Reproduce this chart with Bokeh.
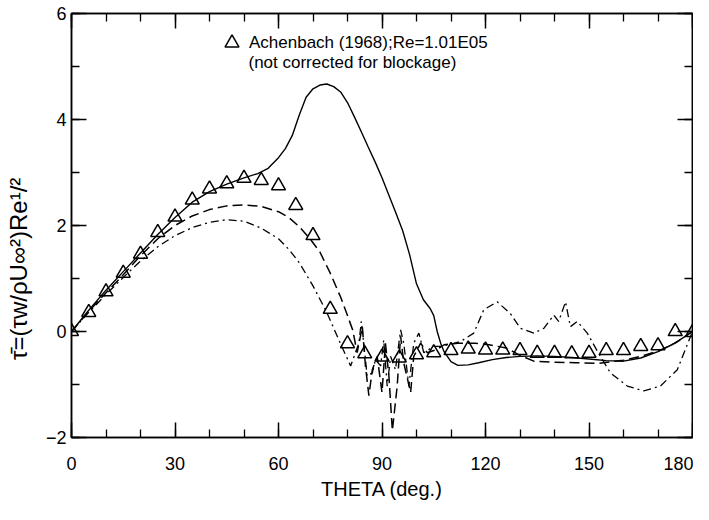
from bokeh.plotting import figure
from bokeh.models import (Range1d, LinearAxis, SingleIntervalTicker, Legend, LegendItem, Label,
                          CustomJSTickFormatter)
from bokeh.embed import file_html
from bokeh.resources import INLINE

# Achenbach (1968) experimental data
theta_exp = [0, 5, 10, 15, 20, 25, 30, 35, 40, 45, 50, 55, 60, 65, 70, 75, 80, 85, 90, 95,
             100, 105, 110, 115, 120, 125, 130, 135, 140, 145, 150, 155, 160, 165, 170, 175, 180]
tau_exp = [0.0, 0.36, 0.75, 1.10, 1.46, 1.87, 2.16, 2.48, 2.69, 2.79, 2.89, 2.85, 2.75, 2.38, 1.81,
           0.42, -0.23, -0.42, -0.48, -0.50, -0.44, -0.40, -0.36, -0.33, -0.35, -0.35, -0.36, -0.41,
           -0.41, -0.42, -0.41, -0.36, -0.36, -0.28, -0.27, 0.0, -0.02]

# solid curve
theta_solid = [0, 5, 10, 15, 20, 25, 30, 35, 40, 45, 50, 54, 57, 60, 62, 64, 66, 68, 70, 72, 74,
               76, 78, 80, 82, 84, 86, 88, 90, 92, 94, 96, 98, 100, 102, 104, 105, 106, 107, 108,
               110, 112, 115, 118, 122, 126, 130, 135, 140, 145, 150, 155, 160, 165, 170, 174, 177, 180]
tau_solid = [0, 0.40, 0.78, 1.13, 1.48, 1.83, 2.15, 2.44, 2.64, 2.78, 2.90, 2.98, 3.08, 3.28, 3.45,
             3.70, 4.08, 4.42, 4.58, 4.65, 4.67, 4.62, 4.52, 4.32, 4.05, 3.77, 3.48, 3.20, 2.90,
             2.57, 2.24, 1.90, 1.45, 0.90, 0.60, 0.43, 0.30, 0.0, -0.22, -0.38, -0.57, -0.64, -0.63,
             -0.59, -0.53, -0.49, -0.47, -0.46, -0.47, -0.49, -0.52, -0.55, -0.56, -0.50, -0.38,
             -0.25, -0.13, 0.0]

# long-dash curve
theta_dash = [0, 5, 10, 15, 20, 25, 30, 35, 40, 45, 50, 55, 60, 63, 66, 69, 72, 75, 78, 80, 81.5,
              82.8, 84.3, 85.2, 86.2, 87.2, 88.6, 90, 91, 92, 93, 94.4, 95.4, 96.3, 98.3, 99.2,
              101.2, 103.1, 106, 108, 112, 117, 121, 126, 130, 134, 140, 146, 153, 160, 165, 170, 175, 180]
tau_dash = [0, 0.38, 0.73, 1.07, 1.43, 1.75, 2.0, 2.18, 2.3, 2.37, 2.39, 2.36, 2.26, 2.15, 1.98,
            1.76, 1.50, 1.10, 0.65, 0.30, 0.03, -0.40, 0.09, -0.65, -1.21, -0.72, -0.47, -1.15,
            -0.22, -0.84, -1.87, -1.03, -0.09, -0.59, -1.15, -0.47, -0.22, -0.40, -0.34, -0.25,
            -0.22, -0.22, -0.25, -0.31, -0.45, -0.56, -0.58, -0.59, -0.60, -0.54, -0.47, -0.37,
            -0.22, 0.0]

# dash-dot curve
theta_dd = [0, 5, 10, 15, 20, 25, 30, 35, 40, 45, 50, 55, 60, 63, 66, 70, 74, 77.5, 80.9, 83.3,
            84, 84.7, 85.7, 87.2, 88.1, 89.6, 90.5, 91.5, 92.5, 93.9, 95.4, 96.3, 97.8, 99.2,
            100.7, 102.1, 105, 107, 110, 113, 116.6, 119.5, 123.4, 127.2, 130.1, 134, 136.9,
            139.8, 141.2, 143.2, 144.6, 146.6, 149.5, 152.4, 156.2, 161.1, 165.9, 170.7, 175.6, 180]
tau_dd = [0, 0.36, 0.70, 1.02, 1.33, 1.60, 1.81, 1.96, 2.06, 2.11, 2.08, 1.95, 1.75, 1.55, 1.30,
          0.86, 0.36, -0.16, -0.65, -0.22, 0.19, -0.22, -0.84, -0.78, -0.53, -0.65, -0.16, -1.03,
          -0.47, -0.72, 0.03, -0.22, -1.03, -0.22, -0.03, -0.40, -0.28, -0.28, -0.24, -0.18,
          -0.03, 0.41, 0.56, 0.34, 0.06, -0.03, 0.06, 0.31, 0.19, 0.56, 0.09, 0.19, -0.03,
          -0.37, -0.78, -1.03, -1.12, -1.03, -0.72, 0.0]

x_label = "THETA (deg.)"
y_label = "τ̄=(τw/ρU∞²)Re¹/²"
legend_line1 = "Achenbach (1968);Re=1.01E05"
legend_line2 = "(not corrected for blockage)"

FONT = "Liberation Sans"

# trailing no-break spaces shift the rotated title toward the bottom, as in the reference
y_label_padded = y_label + "\u00a0" * 13

p = figure(frame_width=621, frame_height=424, x_range=Range1d(0, 180), y_range=Range1d(-2, 6),
           output_backend="svg", toolbar_location=None,
           min_border_left=71, min_border_right=1, min_border_top=13, min_border_bottom=67,
           x_axis_label=x_label, y_axis_label=y_label_padded)
p.xgrid.visible = False
p.ygrid.visible = False
p.outline_line_color = "black"
p.outline_line_width = 1.5
p.outline_line_alpha = 1.0
p.background_fill_color = "white"
p.border_fill_color = "white"

bottom_axis = p.below[0]
left_axis = p.left[0]
bottom_axis.ticker = SingleIntervalTicker(interval=30, num_minor_ticks=3)
left_axis.ticker = SingleIntervalTicker(interval=2, num_minor_ticks=2)

blank = CustomJSTickFormatter(code="return '';")
top_axis = LinearAxis(ticker=SingleIntervalTicker(interval=30, num_minor_ticks=3),
                      formatter=blank, major_label_standoff=0, major_label_text_font_size="1px")
right_axis = LinearAxis(ticker=SingleIntervalTicker(interval=2, num_minor_ticks=2),
                        formatter=blank, major_label_standoff=0, major_label_text_font_size="1px")
p.add_layout(top_axis, "above")
p.add_layout(right_axis, "right")

for ax in [bottom_axis, left_axis, top_axis, right_axis]:
    ax.axis_line_color = "black"
    ax.axis_line_width = 1.5
    ax.major_tick_in = 15
    ax.major_tick_out = 0
    ax.minor_tick_in = 8
    ax.minor_tick_out = 0
    ax.major_tick_line_color = "black"
    ax.minor_tick_line_color = "black"
    ax.major_tick_line_width = 1.5
    ax.minor_tick_line_width = 1.3
    ax.major_label_text_font = FONT
    ax.major_label_text_color = "black"

for ax in [bottom_axis, left_axis]:
    ax.major_label_text_font_size = "18px"
    ax.axis_label_text_font = FONT
    ax.axis_label_text_font_style = "normal"
    ax.axis_label_text_color = "black"

bottom_axis.axis_label_text_font_size = "20px"
left_axis.axis_label_text_font_size = "24px"
bottom_axis.major_label_standoff = 19
bottom_axis.axis_label_standoff = 5
left_axis.major_label_standoff = 5
left_axis.axis_label_standoff = 11

p.line(theta_solid, tau_solid, line_color="black", line_width=1.4)
p.line(theta_dash, tau_dash, line_color="black", line_width=1.5, line_dash="10 5")
p.line(theta_dd, tau_dd, line_color="black", line_width=1.3, line_dash="8 4 2 4")
tri = p.scatter(theta_exp, tau_exp, marker="triangle", size=14, fill_color=None,
                line_color="black", line_width=1.5)

legend = Legend(items=[LegendItem(label=legend_line1, renderers=[tri])],
                location=(143, 377), glyph_width=35, glyph_height=35, label_standoff=-24,
                padding=0, margin=0, spacing=0, border_line_color=None,
                background_fill_alpha=0, label_text_font=FONT, label_text_font_size="17px",
                label_text_color="black")
p.add_layout(legend)

p.add_layout(Label(x=51.3, y=5.07, text=legend_line2, text_baseline="middle",
                   text_font=FONT, text_font_size="17px", text_color="black"))

open("out.html", "w").write(file_html(p, INLINE))
